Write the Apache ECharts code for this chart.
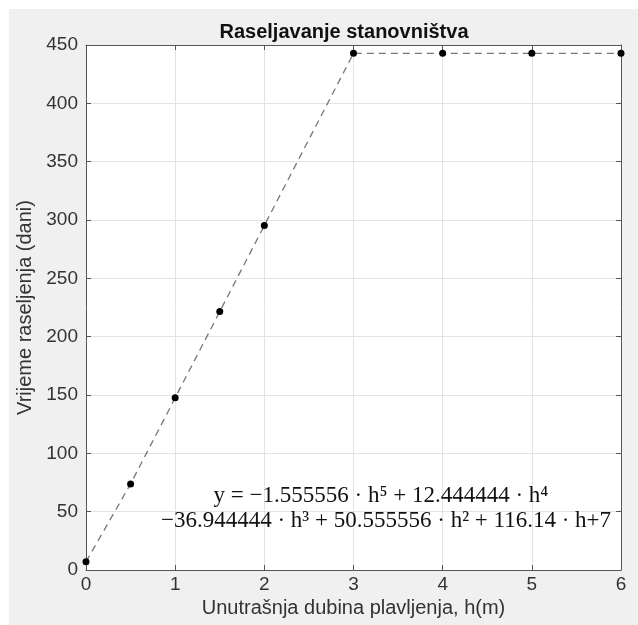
<!DOCTYPE html>
<html>
<head>
<meta charset="utf-8">
<script src="https://cdn.jsdelivr.net/npm/echarts@6/dist/echarts.min.js"></script>
<style>
  html, body { margin: 0; padding: 0; background: #fff; }
  #chart { width: 638px; height: 625px; }
</style>
</head>
<body>
<div id="chart"></div>
<script>
// dubina plavljenja h (m) i vrijeme raseljenja (dani)
var depths = [0, 0.5, 1, 1.5, 2, 3, 4, 5, 6]
var days = [7, 73.8, 147.6, 221.5, 295.3, 442.9, 442.9, 442.9, 442.9]
var xTicks = [0, 1, 2, 3, 4, 5, 6]
var yTicks = [0, 50, 100, 150, 200, 250, 300, 350, 400, 450]
var eqLine1 = 'y = −1.555556 · h⁵ + 12.444444 · h⁴'
var eqLine2 = '−36.944444 · h³ + 50.555556 · h² + 116.14 · h+7'

var axisColor = '#555'
var tickFont = { color: '#333', fontSize: 19, fontFamily: 'Liberation Sans, Arial, sans-serif' }
var nameFont = { color: '#333', fontSize: 20, fontFamily: 'Liberation Sans, Arial, sans-serif' }
var eqFont = '23px "Liberation Serif", "DejaVu Serif", serif'

var chart = echarts.init(document.getElementById('chart'))

var points = depths.map(function (d, i) { return [d, days[i]] })

function sideAxis (pos, isX) {
  return {
    type: 'value',
    position: pos,
    min: isX ? xTicks[0] : yTicks[0],
    max: isX ? xTicks[xTicks.length - 1] : yTicks[yTicks.length - 1],
    interval: isX ? 1 : 50,
    axisLine: { show: true, onZero: false, lineStyle: { color: axisColor, width: 1 } },
    axisTick: { show: true, inside: true, length: 5, lineStyle: { color: axisColor } },
    axisLabel: { show: false },
    splitLine: { show: false }
  }
}

chart.setOption({
  animation: false,
  graphic: [{
    type: 'rect',
    z: -10,
    shape: { x: 9, y: 9, width: 640, height: 620 },
    style: { fill: '#f0f0f0' }
  }, {
    type: 'text',
    z: 100,
    x: 381,
    y: 496,
    style: {
      text: eqLine1,
      font: eqFont,
      fill: '#111',
      align: 'center',
      verticalAlign: 'middle'
    }
  }, {
    type: 'text',
    z: 100,
    x: 386,
    y: 521,
    style: {
      text: eqLine2,
      font: eqFont,
      fill: '#111',
      align: 'center',
      verticalAlign: 'middle'
    }
  }],
  title: {
    text: 'Raseljavanje stanovništva',
    left: 339,
    top: 17,
    textAlign: 'center',
    textStyle: { fontSize: 20, fontWeight: 'bold', color: '#111', fontFamily: 'Liberation Sans, Arial, sans-serif' }
  },
  grid: {
    left: 86,
    right: 17,
    top: 45,
    bottom: 55,
    show: true,
    backgroundColor: '#fff',
    borderWidth: 0
  },
  xAxis: [{
    type: 'value',
    min: xTicks[0],
    max: xTicks[xTicks.length - 1],
    interval: 1,
    name: 'Unutrašnja dubina plavljenja, h(m)',
    nameLocation: 'middle',
    nameGap: 25,
    nameTextStyle: nameFont,
    axisLine: { show: true, onZero: false, lineStyle: { color: axisColor, width: 1 } },
    axisTick: { show: true, inside: true, length: 5, lineStyle: { color: axisColor } },
    axisLabel: Object.assign({ margin: 5 }, tickFont),
    splitLine: { show: true, lineStyle: { color: '#e3e3e3', width: 1 } }
  }, sideAxis('top', true)],
  yAxis: [{
    type: 'value',
    min: yTicks[0],
    max: yTicks[yTicks.length - 1],
    interval: 50,
    name: 'Vrijeme raseljenja (dani)',
    nameLocation: 'middle',
    nameGap: 43,
    nameTextStyle: nameFont,
    axisLine: { show: true, onZero: false, lineStyle: { color: axisColor, width: 1 } },
    axisTick: { show: true, inside: true, length: 5, lineStyle: { color: axisColor } },
    axisLabel: Object.assign({ margin: 8 }, tickFont),
    splitLine: { show: true, lineStyle: { color: '#e3e3e3', width: 1 } }
  }, sideAxis('right', false)],
  series: [{
    type: 'line',
    data: points,
    symbol: 'circle',
    symbolSize: 7,
    itemStyle: { color: '#000' },
    lineStyle: { color: '#777', width: 1.3, type: [7, 5] },
    clip: false,
    z: 5
  }]
})
</script>
</body>
</html>
